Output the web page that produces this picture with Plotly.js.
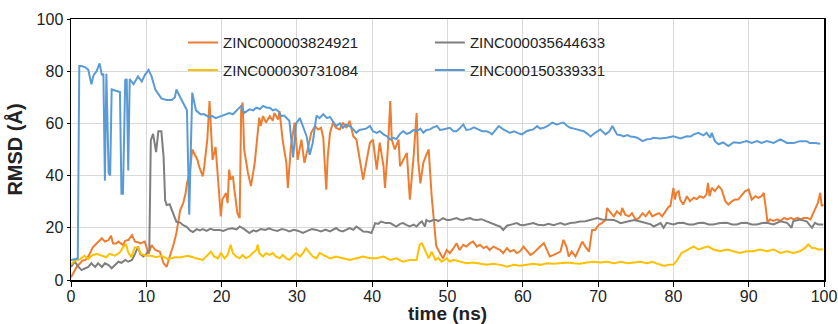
<!DOCTYPE html>
<html>
<head>
<meta charset="utf-8">
<script src="https://cdn.plot.ly/plotly-3.0.1.min.js"></script>
<style>html,body{margin:0;padding:0;background:#fff;}#chart{width:838px;height:324px;}</style>
</head>
<body>
<div id="chart"></div>
<script>
var seriesNames = ["ZINC000003824921", "ZINC000035644633", "ZINC000030731084", "ZINC000150339331"];

var orangeT = [0,0.3,0.5,0.75,1.2,1.5,1.9,2.2,2.5,2.9,3.4,3.7,4.1,4.5,5.0,5.3,5.6,6.0,6.3,6.9,7.2,7.6,8.1,8.5,8.9,9.2,9.8,10.3,10.7,11.2,11.8,12.3,12.7,13.1,13.6,14.0,14.5,14.9,15.2,15.4,15.8,16.1,16.6,16.8,17.0,17.5,17.7,18.1,18.4,18.6,18.8,19.2,19.4,19.7,19.9,20.1,20.6,20.8,21.0,21.2,21.5,21.7,21.9,22.1,22.4,22.6,22.8,23.0,23.5,23.9,24.4,24.8,25.0,25.2,25.5,25.9,26.4,26.8,27.0,27.5,27.7,28.1,28.6,28.8,29.2,29.7,30.1,30.6,31.0,31.5,31.9,32.4,32.8,33.2,33.5,33.9,34.1,34.4,34.8,35.2,35.7,36.1,36.6,37.0,37.5,37.9,38.4,38.8,39.2,39.7,40.1,40.6,41.0,41.5,41.7,42.1,42.4,42.6,43.0,43.5,43.7,44.1,44.6,45.0,45.5,45.9,46.1,46.4,46.8,47.2,47.5,47.9,48.2,48.5,49.0,49.4,49.9,50.3,50.8,51.2,51.6,52.1,52.5,53.0,53.4,53.9,54.3,54.8,55.2,55.6,56.1,56.5,57.0,57.4,57.9,58.3,58.8,59.2,59.6,60.1,60.5,61.0,61.4,61.9,62.3,62.8,63.2,63.6,64.1,64.5,65.0,65.4,65.8,66.1,66.5,67.0,67.4,67.9,68.3,68.8,69.2,69.6,70.1,70.5,71.0,71.2,71.7,72.1,72.5,73.0,73.2,73.6,74.1,74.5,75.0,75.4,75.9,76.3,76.8,77.2,77.6,78.1,78.5,79.0,79.4,79.6,80.0,80.2,80.4,80.7,80.9,81.3,81.8,82.2,82.7,83.1,83.5,84.0,84.4,84.6,84.8,85.1,85.5,86.0,86.4,86.9,87.3,87.8,88.2,88.6,89.1,89.5,90.0,90.2,90.4,90.9,91.3,91.7,92.0,92.3,92.5,92.8,93.3,93.8,94.2,94.7,95.1,95.6,96.0,96.5,96.9,97.3,97.8,98.2,98.6,98.8,99.2,99.5,99.7,99.9];
var orangeV = [1,2.6,3.6,5,6.4,7.4,7.7,8.5,10.2,12.5,14,15,16,14.7,15.3,17,14,14,14.7,13.4,15,15.3,17.2,14.7,14.5,14,14.7,10,13.4,11.5,10.8,6.4,5,8.9,13.4,18,26.8,29.4,33,37,42,50,47.4,46,43.6,39.7,43.6,53.8,68.6,53.8,46,51,43.6,29.5,24.4,30.8,33.3,29.5,42.3,38.5,39.7,34.6,29.5,25.6,23.7,65.4,68,50,41,36,44.9,56.4,62.2,59,62.8,60.3,62.8,61,64,61.5,64.7,53.8,44.9,35.3,51,60.3,46,53.8,44.9,51,56.4,59,57.7,58.3,54.5,34.6,47.4,56.4,60.3,58.3,57.7,60.3,58.3,61,55,53.8,44.9,38.5,44.9,52.6,53.8,42.3,52.6,43.6,35.3,51,68.6,53.8,50,53.8,43.6,46,48.7,30.8,47.4,64,46,37,45,48,50,32,23,13,10.3,8.3,11.5,10.3,12.2,14.1,11.5,13.5,12.8,14.1,14.7,12.8,13.5,12.2,12.8,11.5,12.8,12.2,11.5,10.3,12.2,10.9,11.5,10.3,10.9,12.8,11.5,9.6,10.3,11.5,12.8,14.1,11.5,9,9.6,10.3,10.9,15.4,12.8,9,10.9,9,11.5,14.7,12.8,10.9,19.2,19.2,21.2,21.8,23,27.6,25.6,24.4,26.3,25,27.6,25,24.4,25.6,23,23.7,25.6,24.4,26.3,24.4,25,25.6,24.4,26.3,28.2,28.3,35.3,30.8,33.4,34,30.8,28.9,32.1,30.2,31.5,31,32.1,31.5,32.8,37.2,32.1,35.3,34,36,34.7,30.2,28.9,30.2,30.8,30.8,32.8,34,34.7,32.1,30.8,32.1,31.5,32.1,33.4,27,22,23.2,22.6,23.2,22.6,23.8,23.2,23.8,23.2,23.8,23.2,23.8,23.8,23.2,25.7,27.6,29.6,33.4,28.3,28.9];

var grayT = [0,0.5,1.0,1.4,1.9,2.3,2.7,3.2,3.6,4.1,4.5,5.0,5.4,5.8,6.3,6.7,7.2,7.6,8.1,8.5,8.9,9.2,9.6,10.0,10.4,10.6,10.9,11.3,11.6,12.0,12.3,12.5,12.7,13.1,13.6,14.0,14.5,14.9,15.4,15.8,16.2,16.7,17.1,17.5,18.0,18.5,19.0,19.7,20.2,20.8,21.4,22.0,22.4,23.0,23.7,24.2,24.6,25.2,25.8,26.3,26.8,27.4,28.0,28.5,29.0,29.6,30.2,30.8,31.4,32.0,32.6,33.2,33.8,34.4,35.2,35.6,36.1,36.6,37.0,37.5,37.9,38.4,38.8,39.4,39.9,40.4,40.8,41.2,41.8,42.4,42.8,43.2,43.7,44.1,44.6,45.0,45.5,45.9,46.3,46.6,47.0,47.2,47.6,48.1,48.5,48.8,49.4,49.9,50.3,50.8,51.2,51.6,52.1,52.5,53.0,53.4,53.9,54.5,55.2,55.9,56.5,57.0,57.4,57.9,58.3,58.8,59.2,59.6,60.1,60.7,61.4,62.0,62.8,63.4,64.1,64.6,65.0,65.6,66.3,67.0,67.6,68.3,69.0,69.9,70.5,71.2,72.1,72.6,73.0,73.9,74.8,75.6,76.5,77.0,77.4,78.3,78.7,79.1,80.0,80.6,81.3,82.0,82.7,83.3,84.0,84.7,85.3,86.2,87.1,87.8,88.4,89.0,89.7,90.4,91.1,91.8,92.4,93.3,94.2,95.1,95.7,95.9,96.8,97.7,98.4,98.8,99.2,99.9];
var grayV = [5,7,5,3.8,4.5,5,6.4,5,6.4,5,6.4,5.7,4.5,5.7,7,6.6,7.7,7,7.7,10,12.8,10,9,10,11.5,53.6,56,49,57,57,47,30.6,28.7,29,25.5,22.3,22,21,20.3,19,18.4,19.5,19,19.5,18.8,19.6,19.2,19.2,18.8,19.5,19.8,19.4,20.5,19.5,18,19,18.6,19.5,19.2,19.8,19.2,18.8,19.5,19.2,18.6,19.2,18.8,18,18.8,19.5,19.2,18.6,19.3,18.6,19.9,19,18.6,19.5,19.9,19.2,20.5,19.5,18.6,18.5,18,21.8,21.5,22.4,21.8,21.8,21.2,20.5,21.5,21.8,21,20.5,21.2,20.5,21.8,22.4,20.5,23,22.4,23,23,22.6,23.7,23,23,23.5,23.7,23.2,23,23.5,23.7,23.2,23,23.3,22.4,21.8,21,20.5,19.2,20.8,21,21.5,21.8,21.2,21,21.5,21.8,21.2,21,21.5,21,21.5,21.8,21.2,21.8,22,22.4,22.5,23,23.7,23.2,23,23,22.4,21.8,22.4,23,22.4,21.8,21.3,20.5,21.8,20,21.9,21.3,21.8,21.9,21.3,21.3,21.8,21.9,21.3,21.3,21.8,21.9,21.3,21.3,21.8,21.9,21.3,21.3,21.8,21.9,21.3,22.5,21.9,20,22.5,23.2,22.5,20,21.9,21.3,21.3];

var yellowT = [0,0.5,1.2,1.8,2.3,2.7,3.4,4.0,4.7,5.1,5.8,6.5,6.9,7.3,7.6,8.0,8.45,8.9,9.3,10.0,10.7,11.3,12.0,12.9,13.8,14.6,15.5,16.2,16.6,17.5,18.1,18.6,19.0,19.5,19.9,20.4,20.8,21.2,21.5,21.9,22.4,22.8,23.2,23.7,24.1,24.6,24.8,25.0,25.5,25.9,26.4,26.8,27.2,27.7,28.1,28.6,29.0,29.5,29.9,30.4,30.8,31.2,31.7,32.1,32.6,33.0,33.5,33.9,34.4,35.2,36.1,37.0,37.9,38.8,39.7,40.6,41.5,42.4,43.2,44.1,45.0,45.9,46.3,46.6,47.0,47.5,47.9,48.4,48.8,49.2,49.9,50.3,50.8,51.6,52.5,53.4,54.3,55.2,56.1,57.0,57.9,58.8,59.6,60.5,61.4,62.3,63.2,64.1,65.0,65.9,66.8,67.6,68.5,69.4,70.3,71.2,72.1,73.0,73.9,74.8,75.6,76.5,77.2,77.9,78.8,79.4,80.0,80.4,81.1,81.5,82.0,82.7,83.3,84.0,84.6,85.3,86.2,87.1,88.0,88.8,89.7,90.6,91.5,92.4,93.3,94.2,95.1,95.9,96.8,97.5,97.9,98.4,98.8,99.2,99.9];
var yellowV = [6,7.4,8,9.3,8,9.3,10,9.3,8.7,10,9.3,10.6,12.5,13.8,10.6,8.7,12.5,12.5,10,9.3,9.3,8.7,9.3,8,8.7,8.7,9.3,8.7,8.3,7.7,9.6,10.9,9,8.3,10.3,8.3,9.6,13.5,10.3,9,8.3,9.6,8.3,9,10.3,11.5,13.5,10.3,9,10.3,9.6,10.3,9,8.3,9.6,8.3,7.7,9,10.3,9,10.3,12.2,10.3,9,8.3,10.3,9.6,9,8.3,9,8.3,7.7,8.3,9,8.3,8.3,9,7.7,8.3,7,7.7,7.7,13.5,14.1,11.5,8.3,10.9,7.7,8.5,7,8.3,7,7.7,7,6.4,6.7,6.2,5.8,6.2,5.8,5.1,5.8,5.5,5.8,6.2,5.8,6.4,6.2,6.4,6.7,6.4,6.2,6.7,7,6.7,7,6.4,7,6.4,6.7,7,6.4,7,6.2,5.4,5.8,5.9,7.2,10.4,11,11.7,12.9,11.7,12.3,12.9,11.7,11,11.7,11,10.4,11,11,11.7,11,11.7,10.4,11,10.4,11,12.3,13.6,12.3,12.3,11.7,11.7];

var blueT = [0,0.5,0.9,1.1,1.4,1.9,2.3,2.7,3.0,3.4,3.8,4.1,4.3,4.5,4.7,5.0,5.2,5.4,6.1,6.5,6.7,6.9,7.2,7.4,7.6,7.8,8.3,8.9,9.4,9.8,10.3,10.7,11.2,11.6,12.0,12.7,13.4,13.8,14.0,14.5,14.9,15.4,15.7,16.1,16.6,17.2,17.7,18.3,18.8,19.2,20.1,20.6,21.0,21.5,21.9,22.3,22.6,23.0,23.4,23.7,24.2,24.6,25.1,25.5,26.0,26.4,26.8,27.2,27.6,27.9,28.3,28.6,29.0,29.5,29.9,30.4,30.8,31.3,31.7,32.1,32.6,33.0,33.5,34.0,34.4,34.8,35.2,35.7,36.1,36.5,37.0,37.4,37.9,38.3,38.8,39.2,39.7,40.1,40.6,41.0,41.5,42.0,42.4,42.8,43.2,43.7,44.1,44.6,45.0,45.5,45.9,46.4,46.8,47.2,47.7,48.1,48.6,49.0,49.4,49.9,50.3,50.8,51.2,51.6,52.1,52.5,53.0,53.5,54.1,54.6,55.2,55.6,55.9,56.4,56.8,57.4,57.9,58.3,58.8,59.2,59.6,59.9,60.5,61.0,61.4,61.9,62.3,62.8,63.3,63.9,64.5,65.0,65.4,65.9,66.3,66.8,67.2,67.6,68.1,68.6,69.0,69.6,70.3,71.0,71.5,71.9,72.5,73.0,73.4,73.9,74.3,74.8,75.2,75.9,76.5,77.0,77.3,78.2,79.1,80.0,80.5,80.9,81.8,82.3,82.7,83.3,84.0,84.4,84.9,85.1,85.5,86.0,86.6,87.3,88.0,88.8,89.7,90.4,91.1,91.7,92.4,93.3,94.2,95.1,96.0,96.8,97.7,98.1,98.8,99.5];
var blueV = [7.7,8,8.2,82,82,81.5,80.5,75,78.5,80,83,78.5,79,38,79,41,40,73,72.5,72,33,33,76.6,77,42,77,75,78,76,78.5,80.5,78,73,71.5,69.6,69,69,70,73,70,68,65,25,71.8,65,63.5,63.5,62.5,62.8,62,63,63.5,64,63.5,64.7,65.5,66.7,64,65,65.4,65,66,65.5,66.7,66,66,65,65.4,64.5,62.8,63,62,61,47,60,62,59,55,48,52.5,63,62,63.5,62,62.5,60.5,59,60,58.3,59.5,59,58,56.4,57.5,57.7,58,59,57,56.4,57,55.8,55,53.8,54.5,54,56,57,56,56.4,57.5,57,58,56.4,57.5,57.7,58.5,59,57.5,57.7,58,58.3,57,57,58,59.6,57.5,57.7,58.5,57.7,57,57,56.5,55.8,57.5,59,57.7,57,56.4,57,56.4,56,55.8,57,57.5,57.7,59,58,58.3,59,60.3,59.6,60,60.3,59,58.3,58,57.7,57.5,57,56,55,56.4,57.7,55.8,57,59,55.8,55.5,55,55.5,55,54.8,54.5,53.2,53.9,54,54.5,54.2,54.5,55.1,54.5,54.2,55.1,55,55.8,56.4,55.4,56.4,54.5,56.4,53.2,52,52.7,51.3,52.8,52.5,53.2,52.5,53.2,52.5,53.2,52.5,53.9,52.5,52.5,53.2,53.2,52.5,52.5,52.2];

var xTicks = [0,10,20,30,40,50,60,70,80,90,100];
var yTicks = [0,20,40,60,80,100];

var colors = ["#ED7D31", "#7F7F7F", "#FFC000", "#5B9BD5"];
var xs = [orangeT, grayT, yellowT, blueT];
var ys = [orangeV, grayV, yellowV, blueV];
var legendOf = ["legend", "legend2", "legend", "legend2"];

var traces = seriesNames.map(function (n, i) {
  return {
    x: xs[i], y: ys[i], name: n, type: "scatter", mode: "lines",
    line: {color: colors[i], width: 2},
    legend: legendOf[i], legendgroup: "g" + i
  };
});

var font = "Liberation Sans, Arial, sans-serif";
var layout = {
  width: 838, height: 324,
  margin: {l: 71, r: 14, t: 19, b: 44},
  paper_bgcolor: "#fff", plot_bgcolor: "#fff",
  font: {family: font, color: "#222"},
  showlegend: true,
  xaxis: {
    range: [0, 100], tickvals: xTicks, ticktext: xTicks.map(String),
    showgrid: true, gridcolor: "#d9d9d9", gridwidth: 1,
    showline: true, mirror: true, linecolor: "#000", linewidth: 1.5,
    ticks: "outside", ticklen: 5, tickcolor: "#000",
    ticklabelstandoff: -4,
    tickfont: {size: 16, family: font, color: "#222"},
    zeroline: false,
    title: {text: "<b>time (ns)</b>", font: {size: 19, family: font, color: "#222"}, standoff: 0}
  },
  yaxis: {
    range: [0, 100], tickvals: yTicks, ticktext: yTicks.map(String),
    showgrid: true, gridcolor: "#d9d9d9", gridwidth: 1,
    showline: true, mirror: true, linecolor: "#000", linewidth: 1.5,
    ticks: "outside", ticklen: 3, tickcolor: "#000",
    tickfont: {size: 16, family: font, color: "#222"},
    zeroline: false,
    title: {text: "<b>RMSD (Å)</b>", font: {size: 20, family: font, color: "#222"}, standoff: 8}
  },
  legend: {
    x: 0.1488, y: 0.972, xanchor: "left", yanchor: "top",
    bgcolor: "rgba(0,0,0,0)", font: {size: 15, family: font, color: "#222"},
    tracegroupgap: 5, orientation: "v"
  },
  legend2: {
    x: 0.4766, y: 0.972, xanchor: "left", yanchor: "top",
    bgcolor: "rgba(0,0,0,0)", font: {size: 15, family: font, color: "#222"},
    tracegroupgap: 5, orientation: "v"
  }
};

Plotly.newPlot("chart", traces, layout, {displayModeBar: false, staticPlot: true});
</script>
</body>
</html>
